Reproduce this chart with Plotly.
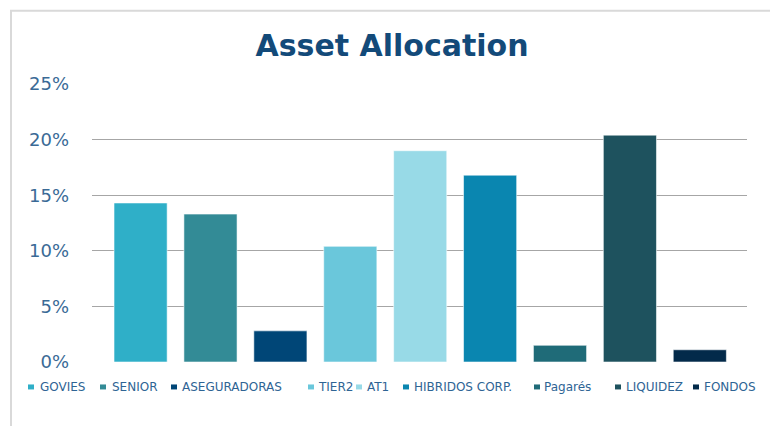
import plotly.graph_objects as go

categories = ["GOVIES", "SENIOR", "ASEGURADORAS", "TIER2", "AT1",
              "HIBRIDOS CORP.", "Pagarés", "LIQUIDEZ", "FONDOS"]
values = [14.3, 13.3, 2.8, 10.4, 19.0, 16.8, 1.5, 20.4, 1.1]
colors = ["#2FAFC8", "#338B96", "#004677", "#6AC7DB", "#98DAE7",
          "#0A86B0", "#1F6B78", "#1E525E", "#032A4A"]
y_ticks = [0, 5, 10, 15, 20, 25]
y_tick_labels = ["0%", "5%", "10%", "15%", "20%", "25%"]

FONT = "DejaVu Sans"
OFF = 8                      # page body margin in the browser
W, H = 778 - OFF, 426 - OFF  # figure size
# plot area in window pixels
L, R, T, B = 92, 747, 83.5, 362


def px_x(p):
    return (p - L) / (R - L)


def px_y(p):
    return (B - p) / (B - T)


fig = go.Figure()
for cat, val, col in zip(categories, values, colors):
    fig.add_trace(go.Bar(
        x=[cat], y=[val], name=cat, showlegend=False,
        marker=dict(color=col, line=dict(color="rgba(255,255,255,0.55)", width=1)),
        width=0.76,
    ))

# legend drawn as swatches (shapes) + text annotations
legend_swatch_x = [28, 100, 171, 308, 356, 403, 534, 615, 693]
legend_text_x = [38, 110, 180, 316, 365, 412, 542, 624, 702]
LEG_Y = 387
annotations = []
shapes = [dict(type="rect", xref="paper", yref="paper",
               x0=px_x(11), x1=px_x(773), y0=px_y(520), y1=px_y(10),
               line=dict(color="#D9D9D9", width=2), fillcolor="rgba(0,0,0,0)",
               layer="below")]
for cat, col, sx, tx in zip(categories, colors, legend_swatch_x, legend_text_x):
    shapes.append(dict(type="rect", xref="paper", yref="paper",
                       x0=px_x(sx), x1=px_x(sx + 6),
                       y0=px_y(LEG_Y + 2.5), y1=px_y(LEG_Y - 2.5),
                       line=dict(width=0), fillcolor=col))
    annotations.append(dict(
        x=px_x(tx), y=px_y(LEG_Y), xref="paper", yref="paper",
        xanchor="left", yanchor="middle", showarrow=False,
        text=cat, font=dict(family=FONT, size=12, color="#2E6494"),
    ))

fig.update_layout(
    width=W, height=H,
    margin=dict(l=L - OFF, r=W - (R - OFF), t=T - OFF, b=H - (B - OFF),
                autoexpand=False),
    paper_bgcolor="white", plot_bgcolor="white",
    barmode="overlay",
    showlegend=False,
    title=dict(text="<b>Asset Allocation</b>", x=(392 - OFF) / W, xref="container",
               y=1 - (45 - OFF) / H, yref="container", yanchor="middle",
               xanchor="center",
               font=dict(family=FONT, size=30, color="#134A79")),
    xaxis=dict(showticklabels=False, showgrid=False, zeroline=False,
               showline=False, range=[-0.695, 8.675], fixedrange=True),
    yaxis=dict(range=[0, 25], tickvals=y_ticks, ticktext=y_tick_labels,
               showgrid=True, gridcolor="#A6A6A6", gridwidth=1.3,
               zeroline=False, showline=False, ticklabelstandoff=22,
               tickfont=dict(family=FONT, size=18, color="#3A6A96")),
    annotations=annotations,
    shapes=shapes,
)

fig.write_html("out.html")
